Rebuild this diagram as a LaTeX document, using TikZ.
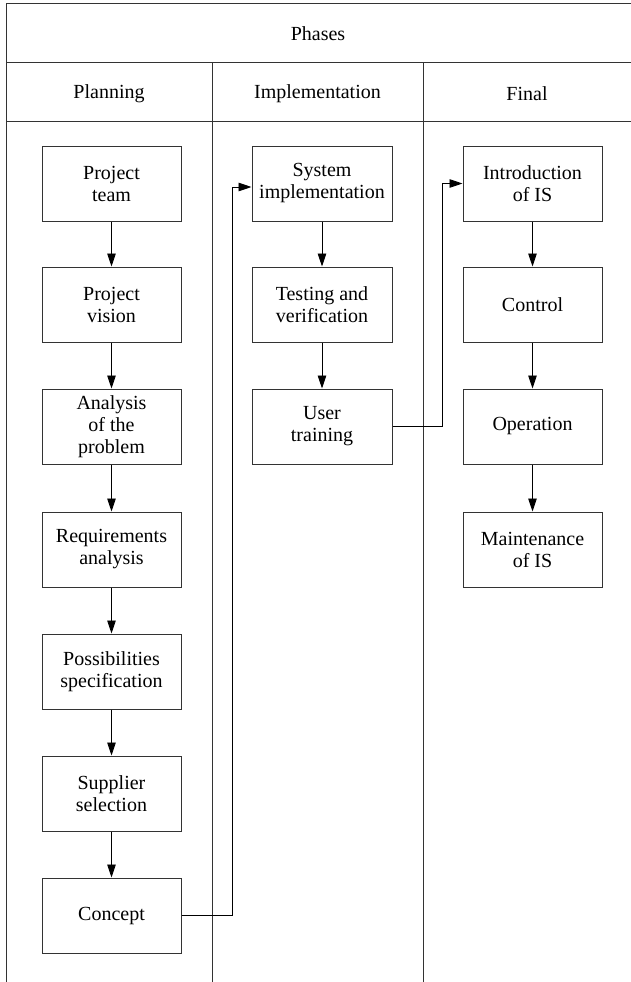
\documentclass[tikz,border=0pt]{standalone}
\usepackage{fontspec}
\setmainfont{Liberation Serif}
\usetikzlibrary{arrows.meta}
\definecolor{ln}{HTML}{333333}
\begin{document}
\begin{tikzpicture}[x=1pt,y=-1pt,
  grid/.style={draw=ln,line width=1pt},
  stepbox/.style={draw=ln,line width=1pt,minimum width=139pt,minimum height=75pt,
    align=center,font=\fontsize{20}{22}\selectfont,inner sep=0pt},
  hdr/.style={font=\fontsize{20}{22}\selectfont},
  arr/.style={draw=black,line width=0.9pt,-{Triangle[length=13pt,width=8.5pt]}}]
\useasboundingbox (0,0) rectangle (631,982);
% table lines
\draw[grid] (6,982) -- (6,4) -- (631,4);
\draw[grid] (6,63) -- (631,63);
\draw[grid] (6,121) -- (631,121);
\draw[grid] (212,63) -- (212,982);
\draw[grid] (423,63) -- (423,982);
% headers
\node[hdr] (phases) at (318,34) {Phases};
\node[hdr] (hplan) at (109,94) {Planning};
\node[hdr] (himpl) at (317.5,94) {Implementation};
\node[hdr] (hfin) at (527,94) {Final};
% planning
\node[stepbox] (team) at (111.5,183.5) {Project\\team};
\node[stepbox] (vision) at (111.5,304.5) {Project\\vision};
\node[stepbox] (analysis) at (111.5,426.5) {Analysis\\of the\\problem};
\node[stepbox] (req) at (111.5,549.5) {Requirements\\analysis};
\node[stepbox] (poss) at (111.5,671.5) {Possibilities\\specification};
\node[stepbox] (supp) at (111.5,793.5) {Supplier\\selection};
\node[stepbox] (concept) at (111.5,915.5) {Concept};
% implementation
\node[stepbox,minimum width=140pt] (sys) at (322,183.5) {System\\implementation};
\node[stepbox,minimum width=140pt] (test) at (322,304.5) {Testing and\\verification};
\node[stepbox,minimum width=140pt] (user) at (322,426.5) {User\\training};
% final
\node[stepbox] (intro) at (532.5,183.5) {Introduction\\of IS};
\node[stepbox] (control) at (532.5,304.5) {Control};
\node[stepbox] (oper) at (532.5,426.5) {Operation};
\node[stepbox] (maint) at (532.5,549.5) {Maintenance\\of IS};
% arrows
\draw[arr] (team) -- (vision);
\draw[arr] (vision) -- (analysis);
\draw[arr] (analysis) -- (req);
\draw[arr] (req) -- (poss);
\draw[arr] (poss) -- (supp);
\draw[arr] (supp) -- (concept);
\draw[arr] (sys) -- (test);
\draw[arr] (test) -- (user);
\draw[arr] (intro) -- (control);
\draw[arr] (control) -- (oper);
\draw[arr] (oper) -- (maint);
\coordinate (c1) at (232,915.5);
\coordinate (c2) at (442,426.5);
\draw[arr] (concept.east) -- (c1) |- ([yshift=-3.5pt]sys.west);
\draw[arr] (user.east) -- (c2) |- (intro.west);
\end{tikzpicture}
\end{document}
